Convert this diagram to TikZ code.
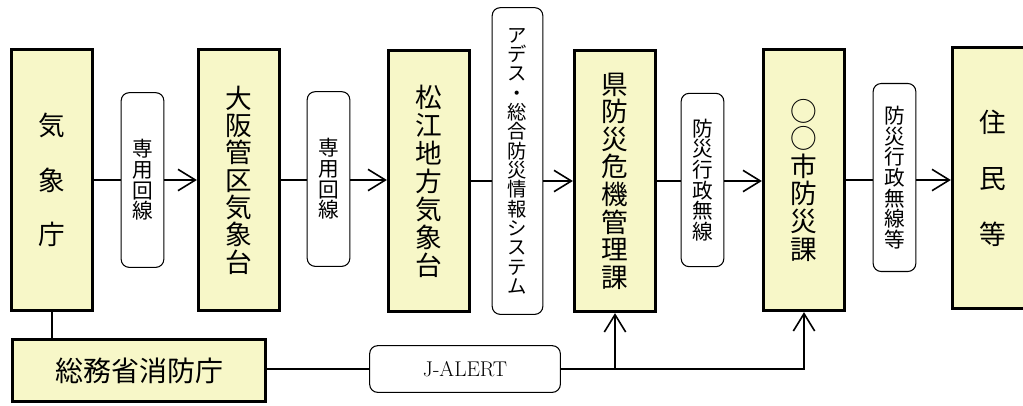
\documentclass[tikz,border=0pt]{standalone}
\usepackage{fontspec}
\usepackage{tikz}
\usetikzlibrary{arrows.meta}
\newfontfamily\jp{Noto Sans CJK JP}
\definecolor{boxfill}{RGB}{247,247,200}

\begin{document}
\begin{tikzpicture}[x=0.75pt, y=-0.75pt,
		mainbox/.style={draw, line width=2.2pt, fill=boxfill, inner sep=0pt, align=center,
			minimum width=61pt, minimum height=196pt},
		linebox/.style={draw, line width=0.8pt, rounded corners=6pt, fill=white, inner sep=0pt,
			align=center, minimum width=32pt, font=\jp\fontsize{15.5}{15.5}\selectfont},
		conn/.style={line width=1pt},
		arr/.style={conn, -{Straight Barb[length=13pt, width=16pt, line width=1.2pt]}}]
		\useasboundingbox (0,0) rectangle (1023,405);
		% top row
		\node[mainbox, font=\jp\fontsize{20}{41}\selectfont] (kisho) at (52,180) {気\\象\\庁};
		\node[mainbox, font=\jp\fontsize{20}{20.5}\selectfont] (osaka) at (239,180) {大\\阪\\管\\区\\気\\象\\台};
		\node[mainbox, font=\jp\fontsize{20}{21}\selectfont] (matsue) at (429,181) {松\\江\\地\\方\\気\\象\\台};
		\node[mainbox, font=\jp\fontsize{20}{20.7}\selectfont] (ken) at (615,181) {県\\防\\災\\危\\機\\管\\理\\課};
		\node[mainbox, font=\jp\fontsize{20}{20.7}\selectfont] (shi) at (804,180) {○\\○\\市\\防\\災\\課};
		\node[mainbox, font=\jp\fontsize{20}{42}\selectfont] (jumin) at (993,178) {住\\民\\等};
		% line labels
		\node[linebox, minimum height=131pt] (senyo1) at (142.5,180) {専\\用\\回\\線};
		\node[linebox, minimum height=131pt] (senyo2) at (328.5,179) {専\\用\\回\\線};
		\node[linebox, minimum width=38pt, minimum height=230pt, font=\jp\fontsize{14.5}{14.5}\selectfont]
			(ades) at (517.5,161) {ア\\デ\\ス\\・\\総\\合\\防\\災\\情\\報\\シ\\ス\\テ\\ム};
		\node[linebox, minimum height=130pt] (gyosei1) at (702.5,180) {防\\災\\行\\政\\無\\線};
		\node[linebox, minimum height=141pt] (gyosei2) at (894.5,177.5) {防\\災\\行\\政\\無\\線\\等};
		% bottom row
		\node[mainbox, minimum width=190pt, minimum height=47pt, font=\jp\fontsize{21}{21}\selectfont]
			(shobo) at (139,370.5) {総務省消防庁};
		\node[linebox, minimum width=143pt, minimum height=35pt, font=\fontsize{16}{16}\selectfont]
			(jalert) at (465,369) {J-ALERT};
		% connectors
		\draw[conn] (kisho) -- (kisho -| senyo1.west);
		\draw[arr] (kisho -| senyo1.east) -- (osaka);
		\draw[conn] (osaka) -- (osaka -| senyo2.west);
		\draw[arr] (osaka -| senyo2.east) -- (matsue.west |- osaka);
		\draw[conn] (matsue) -- (matsue -| ades.west);
		\draw[arr] (matsue -| ades.east) -- (ken);
		\draw[conn] (ken) -- (ken -| gyosei1.west);
		\draw[arr] (ken -| gyosei1.east) -- (shi.west |- ken);
		\draw[conn] (shi) -- (shi -| gyosei2.west);
		\draw[arr] (shi -| gyosei2.east) -- (jumin.west |- shi);
		\draw[conn] (kisho) -- (kisho |- shobo.north);
		\draw[conn] (shobo.east |- jalert) -- (jalert);
		\draw[arr] (jalert) -- (shi |- jalert) -- (shi);
		\draw[arr] (ken |- jalert) -- (ken);
\end{tikzpicture}
\end{document}
